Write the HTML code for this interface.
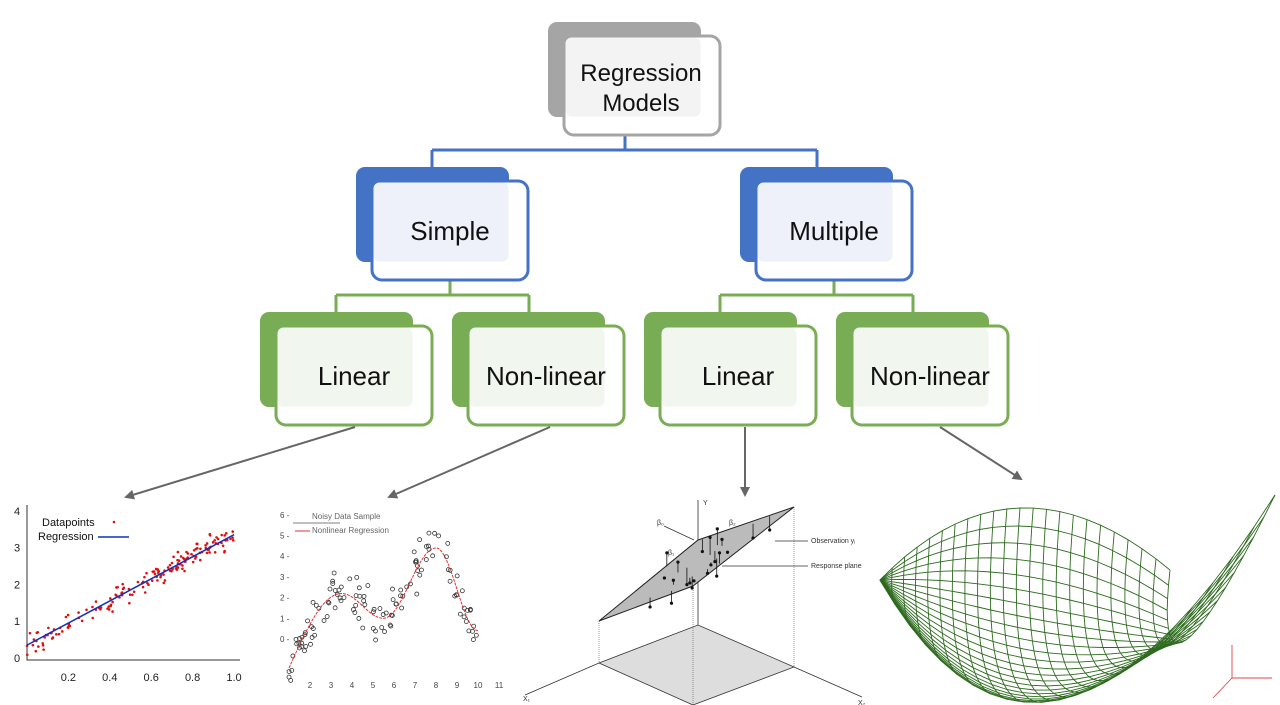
<!DOCTYPE html>
<html><head><meta charset="utf-8"><style>
html,body{margin:0;padding:0;background:#fff;width:1280px;height:705px;overflow:hidden;font-family:"Liberation Sans",sans-serif}
</style></head><body>
<svg id="s" width="1280" height="705" viewBox="0 0 1280 705" xmlns="http://www.w3.org/2000/svg">
<defs><marker id="ah" markerWidth="10" markerHeight="10" refX="8" refY="5" orient="auto" markerUnits="userSpaceOnUse"><path d="M0,0 L10,5 L0,10 z" fill="#666"/></marker></defs>
<g fill="none" stroke-width="3">
<path d="M625,135 V150 M432,150 H817 M432,150 V180 M817,150 V180" stroke="#4472c4"/>
<path d="M450,281 V295 M336,295 H529 M336,295 V325 M529,295 V325" stroke="#79ad55"/>
<path d="M834,281 V295 M720,295 H913 M720,295 V325 M913,295 V325" stroke="#79ad55"/>
</g>
<g id="boxes"></g>
<g stroke="#666" stroke-width="2" fill="none">
<line x1="355" y1="427" x2="126" y2="497" marker-end="url(#ah)"/>
<line x1="550" y1="427" x2="389" y2="497" marker-end="url(#ah)"/>
<line x1="745" y1="427" x2="745" y2="495" marker-end="url(#ah)"/>
<line x1="940" y1="427" x2="1021" y2="479" marker-end="url(#ah)"/>
</g>
<g id="c1" font-size="11"></g>
<g id="c2" font-size="8"></g>
<g id="c3" font-size="7"></g>
<g id="c4" fill="none" stroke="#2d6a1e" stroke-width="0.9"></g>
</svg>
<script>
(function(){
var NS="http://www.w3.org/2000/svg";
function el(p,t,a,txt){var e=document.createElementNS(NS,t);for(var k in a)e.setAttribute(k,a[k]);if(txt!==undefined)e.textContent=txt;document.getElementById(p).appendChild(e);return e;}
var seed=7;function rnd(){seed=(seed*16807)%2147483647;return seed/2147483647;}
function gauss(){return (rnd()+rnd()+rnd()-1.5)*1.4;}
var i,j,xv,yv,x,u,v;
var B=[[548,22,"#a5a5a5","#a5a5a5","#f3f3f3",["Regression","Models"],24],
[356,167,"#4472c4","#4472c4","#eef1f9",["Simple"],26],
[740,167,"#4472c4","#4472c4","#eef1f9",["Multiple"],26],
[260,312,"#79ad55","#79ad55","#f1f6ee",["Linear"],26],
[452,312,"#79ad55","#79ad55","#f1f6ee",["Non-linear"],26],
[644,312,"#79ad55","#79ad55","#f1f6ee",["Linear"],26],
[836,312,"#79ad55","#79ad55","#f1f6ee",["Non-linear"],26]];
B.forEach(function(b){var x=b[0],y=b[1];
el("boxes","rect",{x:x,y:y,width:153,height:95,rx:9,fill:b[2]});
el("boxes","rect",{x:x+16,y:y+14,width:156,height:99,rx:10,fill:"#fff",stroke:b[3],"stroke-width":3});
el("boxes","rect",{x:x+17.5,y:y+15.5,width:135,height:79,rx:6,fill:b[4]});
var cx=x+16+78,cy=y+14+50;
if(b[5].length==2){el("boxes","text",{x:cx-1,y:cy-5,"text-anchor":"middle","font-size":b[6],fill:"#111"},b[5][0]);el("boxes","text",{x:cx-1,y:cy+25,"text-anchor":"middle","font-size":b[6],fill:"#111"},b[5][1]);}
else el("boxes","text",{x:cx,y:cy+9,"text-anchor":"middle","font-size":b[6],fill:"#111"},b[5][0]);
});
function X1(v){return 27+v*207;}function Y1(v){return 658-v*36.8;}
el("c1","path",{d:"M27,505 V660 H240",stroke:"#333",fill:"none","stroke-width":1});
[0,1,2,3,4].forEach(function(v){el("c1","text",{x:14,y:Y1(v)+4,fill:"#222"},String(v));});
[["0.2",.2],["0.4",.4],["0.6",.6],["0.8",.8],["1.0",1]].forEach(function(a){el("c1","text",{x:X1(a[1]),y:681,"text-anchor":"middle",fill:"#222"},a[0]);});
for(i=0;i<170;i++){xv=rnd();yv=0.35+3*xv+gauss()*0.2;el("c1","circle",{cx:X1(xv),cy:Y1(yv),r:1.3,fill:"#d11"});}
el("c1","line",{x1:X1(0),y1:Y1(0.35),x2:X1(1),y2:Y1(3.35),stroke:"#1030c0","stroke-width":1.5});
el("c1","text",{x:42,y:526,fill:"#111"},"Datapoints");el("c1","text",{x:38,y:540,fill:"#111"},"Regression");
el("c1","circle",{cx:114,cy:522,r:1.3,fill:"#d11"});el("c1","line",{x1:98,y1:537,x2:129,y2:537,stroke:"#1030c0","stroke-width":1.5});
function X2(v){return 289+(v-1)*21;}function Y2(v){return 639-v*20.7;}
function f(x){if(x<3.5)return -1.4+3.6*Math.sin((x-1)/2.5*Math.PI/2);if(x<5.5)return 2.2-1.2*(1-Math.cos((x-3.5)/2*Math.PI))/2;if(x<8)return 1+3.4*(1-Math.cos((x-5.5)/2.5*Math.PI))/2;return 4.4-4*(1-Math.cos((x-8)/2*Math.PI))/2;}
var d="";for(x=1;x<=10.001;x+=0.1)d+=(d?"L":"M")+X2(x).toFixed(1)+","+Y2(f(x)).toFixed(1);
for(i=0;i<120;i++){xv=1+rnd()*9;el("c2","circle",{cx:X2(xv),cy:Y2(f(xv)+gauss()*0.7),r:2,fill:"none",stroke:"#333","stroke-width":0.8});}
el("c2","path",{d:d,stroke:"#d33",fill:"none","stroke-width":1,"stroke-dasharray":"3,1"});
for(i=0;i<=6;i++)el("c2","text",{x:280,y:Y2(i)+3,fill:"#444"},i+" -");
for(i=2;i<=11;i++)el("c2","text",{x:X2(i),y:688,"text-anchor":"middle",fill:"#444"},String(i));
el("c2","line",{x1:293,y1:523,x2:340,y2:523,stroke:"#555","stroke-width":0.8});
el("c2","text",{x:312,y:519,fill:"#666"},"Noisy Data Sample");el("c2","text",{x:312,y:533,fill:"#666"},"Nonlinear Regression");
el("c2","line",{x1:295,y1:531,x2:310,y2:531,stroke:"#d33"});
el("c3","polygon",{points:"599,663 698,625 794,667 693,705",fill:"#ddd",stroke:"#333","stroke-width":0.8});
el("c3","path",{d:"M525,695 L599,663 M794,667 L862,697 M698,500 V625",stroke:"#333",fill:"none","stroke-width":0.8});
el("c3","path",{d:"M599,621 V663 M698,540 V625 M794,507 V667 M693,586 V705",stroke:"#555",fill:"none","stroke-width":0.6,"stroke-dasharray":"1,1"});
el("c3","polygon",{points:"599,621 698,540 794,507 693,586",fill:"#bbb",stroke:"#222","stroke-width":1});
for(i=0;i<22;i++){u=rnd();v=rnd();var px=599+u*(698-599)+v*(693-599),py=621+u*(540-621)+v*(586-621);var dy=(rnd()-0.5)*36;
el("c3","line",{x1:px,y1:py,x2:px,y2:py+dy,stroke:"#111","stroke-width":0.8});el("c3","circle",{cx:px,cy:py+dy,r:1.6,fill:"#111"});}
el("c3","text",{x:703,y:505,fill:"#333"},"Y");el("c3","text",{x:811,y:543,fill:"#333"},"Observation y\u1D62");el("c3","text",{x:811,y:568,fill:"#333"},"Response plane");
el("c3","path",{d:"M775,541 H808 M722,566 H808 M664,526 L694,540",stroke:"#333",fill:"none","stroke-width":0.7});
el("c3","text",{x:657,y:525,fill:"#333"},"β₀");el("c3","text",{x:668,y:555,fill:"#333"},"β₁");el("c3","text",{x:729,y:525,fill:"#333"},"β₂");
el("c3","text",{x:523,y:701,fill:"#333"},"X₁");el("c3","text",{x:858,y:705,fill:"#333"},"X₂");
function q(a,c,b,t){return [(1-t)*(1-t)*a[0]+2*t*(1-t)*c[0]+t*t*b[0],(1-t)*(1-t)*a[1]+2*t*(1-t)*c[1]+t*t*b[1]];}
var A=[880,580],Bp=[1170,570],C=[1275,495],D=[880,580];
function tE(u){return q(A,[1015,441],Bp,u);}function bE(u){return q(D,[1042,862],C,u);}
function lE(v){return A;}function rE(v){return q(Bp,[1150,747],C,v);}
function P(u,v){var t=tE(u),b=bE(u),l=lE(v),r=rE(v);var x=(1-v)*t[0]+v*b[0]+(1-u)*l[0]+u*r[0]-((1-u)*(1-v)*A[0]+u*(1-v)*Bp[0]+(1-u)*v*D[0]+u*v*C[0]);var y=(1-v)*t[1]+v*b[1]+(1-u)*l[1]+u*r[1]-((1-u)*(1-v)*A[1]+u*(1-v)*Bp[1]+(1-u)*v*D[1]+u*v*C[1]);return x.toFixed(1)+","+y.toFixed(1);}
var N=22;for(i=0;i<=N;i++){var s1="",s2="";for(j=0;j<=N;j++){s1+=(j?"L":"M")+P(i/N,j/N);s2+=(j?"L":"M")+P(j/N,i/N);}el("c4","path",{d:s1});el("c4","path",{d:s2});}
el("c4","path",{d:"M1232,678 V645 M1232,678 H1272 M1232,678 L1213,698",stroke:"#d44"});
})();
</script>
</body></html>
